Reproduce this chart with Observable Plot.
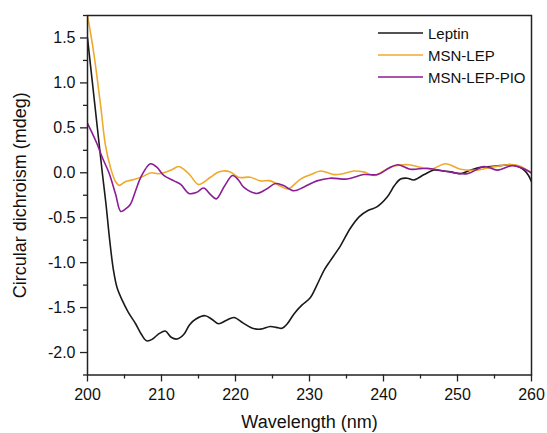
<!DOCTYPE html>
<html>
<head>
<meta charset="utf-8">
<script src="https://cdn.jsdelivr.net/npm/d3@7"></script>
<script src="https://cdn.jsdelivr.net/npm/@observablehq/plot@0.6"></script>
<style>
  body { margin: 0; background: #fff; }
  #wrap { position: relative; width: 547px; height: 433px; font-family: "Liberation Sans", Arial, sans-serif; }
  #legend { position: absolute; left: 378px; top: 22px; font-size: 15px; color: #111; }
  #legend .row { display: flex; align-items: center; height: 22px; }
  #legend svg { margin-right: 5px; }
</style>
</head>
<body>
<div id="wrap"><div id="legend"></div></div>
<script>
const seriesNames = ["Leptin", "MSN-LEP", "MSN-LEP-PIO"];
const seriesColors = ["#1a1a1a", "#eeaa2c", "#8c1d96"];

const leptinNm = [200,201,202,202.5,203,203.5,204,204.7,205.5,206.5,207.3,208,208.8,209.5,210.5,211.3,212.1,213,213.8,214.6,215.9,216.8,217.7,218.8,219.8,221,222.3,223.4,224.7,225.5,226.3,227,227.9,229,230.1,231,232,232.8,234.2,235.5,236.7,237.9,239.1,240.5,241.5,242.3,243.2,244.1,245.5,246.8,248,249.1,250.4,251.8,253.1,254.5,255.8,257.2,258.2,259,259.6,260];
const leptinCD = [1.50,0.75,0.0,-0.35,-0.75,-1.08,-1.28,-1.42,-1.55,-1.68,-1.80,-1.87,-1.85,-1.80,-1.76,-1.83,-1.85,-1.80,-1.69,-1.63,-1.59,-1.63,-1.68,-1.64,-1.61,-1.67,-1.73,-1.74,-1.71,-1.72,-1.73,-1.68,-1.57,-1.47,-1.39,-1.25,-1.08,-0.98,-0.81,-0.62,-0.49,-0.42,-0.38,-0.27,-0.14,-0.07,-0.06,-0.08,-0.02,0.03,0.02,0.01,-0.01,0.03,0.06,0.07,0.08,0.09,0.07,0.03,-0.03,-0.10];

const lepNm = [200,200.85,201.8,202.4,203.1,203.8,204.3,205.1,206.5,207.5,208.6,209.5,210.3,211.3,212.3,213,213.9,215,216.6,217.5,218.3,219.3,220.4,222,223.4,224.7,226.1,227.1,228.8,230.2,231.5,233.3,234.5,236,237.3,238.8,240,241.2,243.4,245,246.4,248.4,250.4,252.7,254.5,256.8,258.2,259.2,260];
const lepCD = [1.75,1.33,0.73,0.32,0.06,-0.10,-0.14,-0.10,-0.07,-0.04,0.00,-0.01,0.00,0.03,0.07,0.04,-0.03,-0.13,-0.05,0.00,0.02,0.01,-0.05,-0.05,-0.09,-0.09,-0.15,-0.18,-0.07,-0.02,0.02,-0.02,-0.01,0.02,0.01,-0.03,0.02,0.07,0.09,0.06,0.04,0.10,0.04,0.03,0.06,0.09,0.08,0.04,-0.01];

const pioNm = [200,201.2,202,202.9,203.8,204.5,205.2,205.8,206.5,207.2,208.5,209.4,210.3,211.7,212.6,213.7,214.7,215.7,216.6,217.4,218.5,219.6,220.4,221.1,222.9,224.2,225.4,226.4,227.9,229.2,231,232.8,235.1,237.3,239.2,240.7,241.9,243.6,245.9,248.2,251.3,253.6,255.4,257.4,258.8,260];
const pioCD = [0.55,0.34,0.17,0.00,-0.24,-0.43,-0.40,-0.35,-0.20,-0.05,0.10,0.06,-0.03,-0.09,-0.13,-0.23,-0.22,-0.17,-0.24,-0.29,-0.15,-0.03,-0.08,-0.16,-0.23,-0.18,-0.12,-0.14,-0.20,-0.16,-0.09,-0.06,-0.07,-0.02,-0.02,0.05,0.09,0.04,0.05,0.02,-0.01,0.07,0.03,0.08,0.05,0.00];

const xMajor = [200,210,220,230,240,250,260];
const xMinor = [205,215,225,235,245,255];
const yMajor = [-2.0,-1.5,-1.0,-0.5,0.0,0.5,1.0,1.5];
const yMinor = [-2.25,-1.75,-1.25,-0.75,-0.25,0.25,0.75,1.25,1.75];

const rows = [];
[[leptinNm, leptinCD], [lepNm, lepCD], [pioNm, pioCD]].forEach(([xs, ys], i) => {
  xs.forEach((x, j) => rows.push({series: seriesNames[i], nm: x, cd: ys[j]}));
});

const axisColor = "#222";
const plot = Plot.plot({
  width: 547,
  height: 433,
  marginLeft: 87,
  marginRight: 16,
  marginTop: 15,
  marginBottom: 58.5,
  style: {fontFamily: "'Liberation Sans', Arial, sans-serif", fontSize: "16px", color: "#111", background: "#fff"},
  x: {domain: [200, 260]},
  y: {domain: [-2.25, 1.75]},
  color: {domain: seriesNames, range: seriesColors},
  marks: [
    Plot.lineY(rows, {x: "nm", y: "cd", stroke: "series", z: "series", strokeWidth: 1.6, curve: "catmull-rom", clip: true}),
    Plot.frame({stroke: axisColor, strokeWidth: 1.5}),
    Plot.axisX({ticks: xMajor, tickSize: 7, tickPadding: 7, tickFormat: d => String(d), stroke: axisColor, strokeWidth: 1.3,
      label: "Wavelength (nm)", labelAnchor: "center", labelArrow: false, labelOffset: 53, fontSize: 16}),
    Plot.axisX({ticks: xMinor, tickSize: 4, tickFormat: () => "", stroke: axisColor, strokeWidth: 1.3, label: null}),
    Plot.axisY({ticks: yMajor, tickSize: 7, tickPadding: 5, tickFormat: d => d.toFixed(1), stroke: axisColor, strokeWidth: 1.3,
      label: "Circular dichroism (mdeg)", labelAnchor: "center", labelArrow: false, labelOffset: 74, fontSize: 16}),
    Plot.axisY({ticks: yMinor, tickSize: 4, tickFormat: () => "", stroke: axisColor, strokeWidth: 1.3, label: null})
  ]
});
plot.style.position = "absolute";
plot.style.left = "0";
plot.style.top = "0";
// enlarge axis titles
plot.querySelectorAll("g[aria-label='x-axis label'] text, g[aria-label='y-axis label'] text").forEach(t => t.setAttribute("font-size", "18"));
const wrap = document.getElementById("wrap");
wrap.insertBefore(plot, wrap.firstChild);

const legend = document.getElementById("legend");
seriesNames.forEach((name, i) => {
  const row = document.createElement("div");
  row.className = "row";
  row.innerHTML = `<svg width="45" height="4"><line x1="0" x2="45" y1="2" y2="2" stroke="${seriesColors[i]}" stroke-width="1.6"/></svg><span>${name}</span>`;
  legend.appendChild(row);
});
</script>
</body>
</html>
